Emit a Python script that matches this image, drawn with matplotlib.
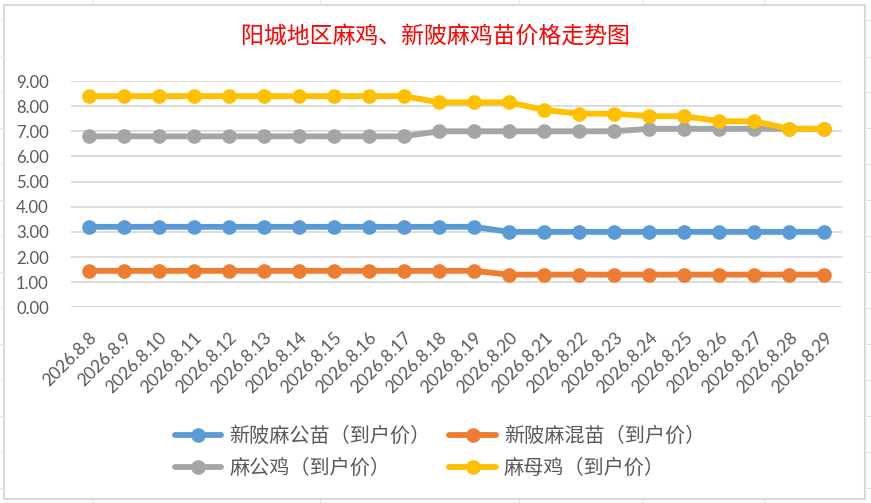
import matplotlib
matplotlib.use("Agg")
import matplotlib.pyplot as plt
from matplotlib.lines import Line2D
from matplotlib.patches import Rectangle

dates = ['2026.8.8', '2026.8.9', '2026.8.10', '2026.8.11', '2026.8.12', '2026.8.13',
         '2026.8.14', '2026.8.15', '2026.8.16', '2026.8.17', '2026.8.18', '2026.8.19',
         '2026.8.20', '2026.8.21', '2026.8.22', '2026.8.23', '2026.8.24', '2026.8.25',
         '2026.8.26', '2026.8.27', '2026.8.28', '2026.8.29']
gongmiao = [3.2, 3.2, 3.2, 3.2, 3.2, 3.2, 3.2, 3.2, 3.2, 3.2, 3.2, 3.2,
            3.0, 3.0, 3.0, 3.0, 3.0, 3.0, 3.0, 3.0, 3.0, 3.0]
hunmiao = [1.45, 1.45, 1.45, 1.45, 1.45, 1.45, 1.45, 1.45, 1.45, 1.45, 1.45, 1.45,
           1.3, 1.3, 1.3, 1.3, 1.3, 1.3, 1.3, 1.3, 1.3, 1.3]
gongji = [6.8, 6.8, 6.8, 6.8, 6.8, 6.8, 6.8, 6.8, 6.8, 6.8,
          7.0, 7.0, 7.0, 7.0, 7.0, 7.0, 7.1, 7.1, 7.1, 7.1, 7.1, 7.1]
muji = [8.4, 8.4, 8.4, 8.4, 8.4, 8.4, 8.4, 8.4, 8.4, 8.4,
        8.15, 8.15, 8.15, 7.85, 7.7, 7.7, 7.6, 7.6, 7.4, 7.4, 7.1, 7.1]
series_names = ['新陂麻公苗（到户价）', '新陂麻混苗（到户价）', '麻公鸡（到户价）', '麻母鸡（到户价）']
yticks = [0, 1, 2, 3, 4, 5, 6, 7, 8, 9]
title = '阳城地区麻鸡、新陂麻鸡苗价格走势图'

colors = ['#5B9BD5', '#ED7D31', '#A5A5A5', '#FFC000']
W, H = 871, 503
fig = plt.figure(figsize=(W / 100, H / 100), dpi=100)
fig.patch.set_facecolor('white')

# spreadsheet grid peeking around chart
cell_color = '#E3E3E3'
for yy in [20, 56.7, 92.3, 128.3, 164.3, 200.3, 236.3, 272.3, 308.3, 344.3, 380.3, 416.3, 452.3, 488.3]:
    fy = 1 - yy / H
    fig.add_artist(Line2D([0, 3 / W], [fy, fy], color=cell_color, lw=0.8))
    fig.add_artist(Line2D([866 / W, 1], [fy, fy], color=cell_color, lw=0.8))
for xx in [93, 320, 519, 642, 764]:
    fx = xx / W
    fig.add_artist(Line2D([fx, fx], [1 - 5 / H, 1], color=cell_color, lw=0.8))
    fig.add_artist(Line2D([fx, fx], [0, 1 - 499 / H], color=cell_color, lw=0.8))
fig.add_artist(Rectangle((4 / W, 1 - 499 / H), 861 / W, 494 / H, fill=False,
                         edgecolor='#D9D9D9', lw=1.5))

ax = fig.add_axes([71 / W, 1 - 307.3 / H, 771 / W, (307.3 - 81) / H])
x = list(range(len(dates)))
handles = []
for vals, c, name in zip([gongmiao, hunmiao, gongji, muji], colors, series_names):
    h, = ax.plot(x, vals, color=c, lw=4.2, marker='o', markersize=9.5, label=name,
                 solid_capstyle='round', clip_on=False)
    handles.append(h)

ax.set_xlim(-0.5, len(dates) - 0.5)
ax.set_ylim(0, 9)
ax.set_yticks(yticks)
ax.set_yticklabels([f'{v:.2f}' for v in yticks], family=['Lato', 'DejaVu Sans'],
                   fontsize=12, color='#595959')
ax.set_xticks(x)
ax.set_xticklabels(dates, rotation=45, ha='right', va='top', rotation_mode='anchor',
                   family=['Lato', 'DejaVu Sans'], fontsize=12.5, color='#595959')
ax.tick_params(axis='y', length=0, pad=16)
ax.tick_params(axis='x', length=0, pad=16)
ax.grid(axis='y', color='#D9D9D9', lw=1.3)
ax.set_axisbelow(True)
for s in ax.spines.values():
    s.set_visible(False)

fig.text(0.5, 1 - 36 / H, title, ha='center', va='center', color='#FF0000',
         fontsize=16.5, family=['Noto Sans CJK SC', 'DejaVu Sans'])

# row-major order: blue, orange / gray, yellow
order = [0, 2, 1, 3]
leg = fig.legend([handles[i] for i in order], [series_names[i] for i in order],
                 loc='center', bbox_to_anchor=(0.505, 1 - 452.5 / H), ncol=2,
                 frameon=False, prop={'family': ['Noto Sans CJK SC', 'DejaVu Sans'], 'size': 14.5},
                 handlelength=2.3, handletextpad=0.4, columnspacing=0.95, labelspacing=0.55,
                 numpoints=1)
for t in leg.get_texts():
    t.set_color('#595959')

fig.savefig('out.png', dpi=100, facecolor='white')
